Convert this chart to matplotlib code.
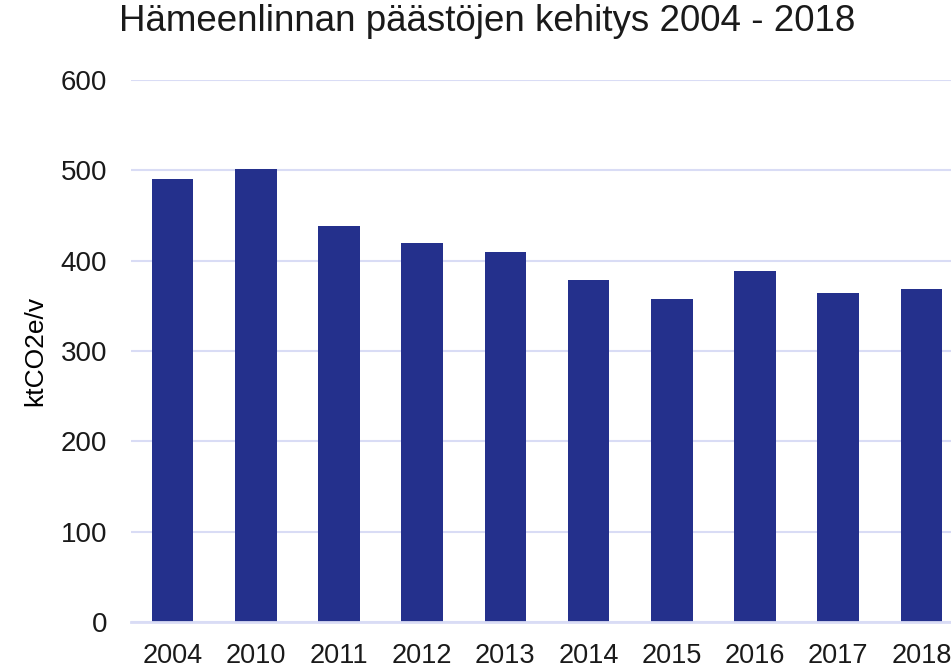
import numpy as np
import matplotlib.pyplot as plt

plt.rcParams['font.family'] = ['Liberation Sans', 'DejaVu Sans']

# Hämeenlinnan päästöt (ktCO2e/v)
vuodet = ['2004', '2010', '2011', '2012', '2013', '2014', '2015', '2016', '2017', '2018']
paastot = [490, 501, 438, 420, 410, 379, 358, 389, 364, 369]
y_ticks = [0, 100, 200, 300, 400, 500, 600]

bar_color = '#24308c'
grid_color = '#d9dcf5'

fig = plt.figure(figsize=(9.51, 6.71), dpi=100)
# axes goes a bit past the right edge, as in the cropped original
ax = fig.add_axes([0.1377, 0.073, 0.875, 0.8078])

x = np.arange(len(vuodet))
ax.bar(x, paastot, width=0.5, color=bar_color, zorder=3)

ax.set_xlim(-0.5, len(vuodet) - 0.5)
ax.set_ylim(0, 600)
ax.set_yticks(y_ticks)
ax.set_yticklabels([str(v) for v in y_ticks], fontsize=20)
ax.set_xticks(x)
ax.set_xticklabels(vuodet, fontsize=19.5)

ax.grid(axis='y', color=grid_color, linewidth=1.5, zorder=0)
for s in ['top', 'right', 'left']:
    ax.spines[s].set_visible(False)
ax.spines['bottom'].set_color(grid_color)
ax.spines['bottom'].set_linewidth(2)
ax.spines['bottom'].set_zorder(4)
ax.tick_params(axis='both', length=0, colors='#1a1a1a')
ax.tick_params(axis='y', pad=17)
ax.tick_params(axis='x', pad=15)

ax.set_ylabel('ktCO2e/v', fontsize=19, labelpad=10)

fig.text(0.512, 0.968, 'Hämeenlinnan päästöjen kehitys 2004 - 2018',
         ha='center', va='center', fontsize=26.5, color='#1a1a1a')

fig.savefig('out.png', dpi=100)
